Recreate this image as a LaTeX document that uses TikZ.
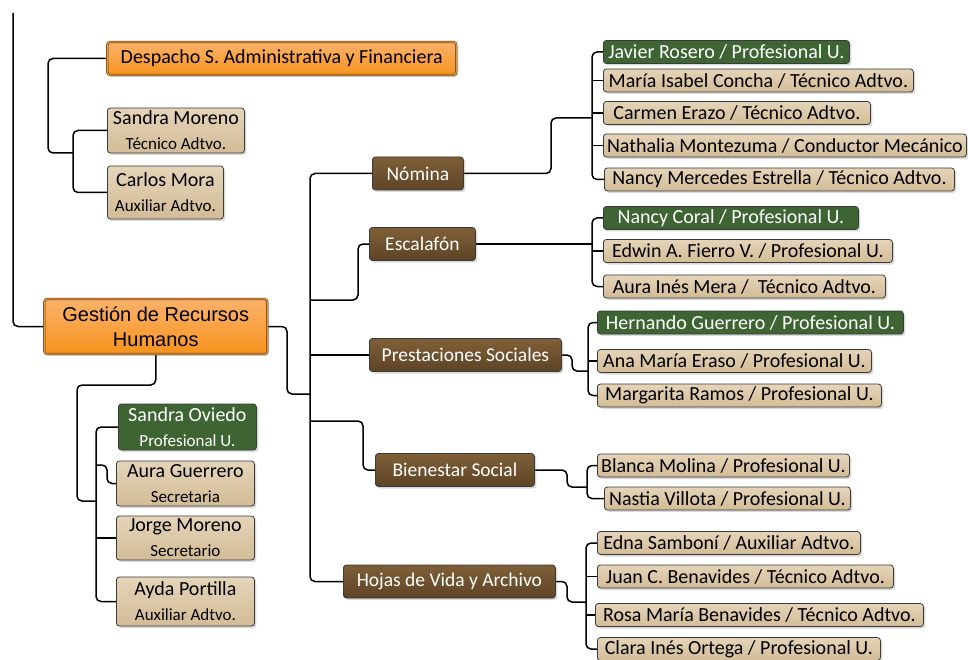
\documentclass[tikz,border=0pt]{standalone}
\usepackage{fontspec}
\setmainfont{Carlito}
\newfontfamily\arialfont{Liberation Sans}
\usetikzlibrary{shadows,backgrounds}

\definecolor{orangetop}{HTML}{FBB26A}
\definecolor{orangebot}{HTML}{F7931E}
\definecolor{browntop}{HTML}{7E5F37}
\definecolor{brownbot}{HTML}{5E4426}
\definecolor{leadfill}{HTML}{3E6433}
\definecolor{stafftop}{HTML}{E4D4B9}
\definecolor{staffbot}{HTML}{D3BC96}
\definecolor{edge}{HTML}{3A3A3A}

\newcommand{\cargo}[1]{{\fontsize{17}{20}\selectfont #1}}

\begin{document}
\begin{tikzpicture}[x=1pt, y=-1pt,
	box/.style = {anchor=west, draw=edge, line width=0.8pt, rounded corners=3pt, inner sep=1pt, align=center, drop shadow={shadow xshift=2pt, shadow yshift=-2pt, opacity=0.3}, font=\fontsize{20}{25}\selectfont},
	staff/.style = {box, top color=stafftop, bottom color=staffbot, minimum height=23pt},
	lead/.style = {box, fill=leadfill, text=white, minimum height=23pt},
	unit/.style = {box, top color=browntop, bottom color=brownbot, text=white, minimum height=33pt, font=\fontsize{19.5}{24}\selectfont},
	office/.style = {box, top color=orangetop, bottom color=orangebot, double=orangebot, double distance=1.2pt, line width=0.5pt},
	conn/.style = {draw, line width=1.5pt, rounded corners=5pt}]
\useasboundingbox (0,0) rectangle (968,660);

\node[office, minimum width=349pt, minimum height=33pt] (despacho) at (107,58.5) {Despacho S. Administrativa y Financiera};
\node[staff, minimum width=137pt, minimum height=45pt] (smoreno) at (107,130.5) {Sandra Moreno\\\cargo{Técnico Adtvo.}};
\node[staff, minimum width=116pt, minimum height=53pt] (cmora) at (107,192.5) {Carlos Mora\\\cargo{Auxiliar Adtvo.}};
\node[office, minimum width=223pt, minimum height=55pt, font=\arialfont\fontsize{20}{25}\selectfont] (gestion) at (44,326.5) {Gestión de Recursos\\Humanos};
\node[lead, minimum width=138pt, minimum height=46pt] (oviedo) at (118,427) {Sandra Oviedo\\\cargo{Profesional U.}};
\node[staff, minimum width=138pt, minimum height=45pt] (aguerrero) at (116,483.5) {Aura Guerrero\\\cargo{Secretaria}};
\node[staff, minimum width=138pt, minimum height=44pt] (jmoreno) at (116,538) {Jorge Moreno\\\cargo{Secretario}};
\node[staff, minimum width=138pt, minimum height=49pt] (portilla) at (116,601.5) {Ayda Portilla\\\cargo{Auxiliar Adtvo.}};

\node[unit, minimum width=91pt] (nomina) at (372,173.5) {Nómina};
\node[unit, minimum width=106pt] (escalafon) at (369,244) {Escalafón};
\node[unit, minimum width=192pt] (prestaciones) at (369,355) {Prestaciones Sociales};
\node[unit, minimum width=159pt] (bienestar) at (375,470) {Bienestar Social};
\node[unit, minimum width=212pt] (hojas) at (343,581.5) {Hojas de Vida y Archivo};

\node[lead, minimum width=246pt] (javier) at (603,52) {Javier Rosero / Profesional U.};
\node[staff, minimum width=310pt] (maria) at (603,80.5) {María Isabel Concha / Técnico Adtvo.};
\node[staff, minimum width=267pt] (carmen) at (603,113) {Carmen Erazo / Técnico Adtvo.};
\node[staff, minimum width=363pt] (nathalia) at (603,145.5) {Nathalia Montezuma / Conductor Mecánico};
\node[staff, minimum width=350pt] (nancym) at (604,179.5) {Nancy Mercedes Estrella / Técnico Adtvo.};
\node[lead, minimum width=255pt] (ncoral) at (603,218) {Nancy Coral / Profesional U.};
\node[staff, minimum width=289pt] (edwin) at (603,251) {Edwin A. Fierro V. / Profesional U.};
\node[staff, minimum width=282pt] (aura) at (603,286.5) {Aura Inés Mera /~ Técnico Adtvo.};
\node[lead, minimum width=306pt] (hernando) at (597,322.5) {Hernando Guerrero / Profesional U.};
\node[staff, minimum width=274pt] (ana) at (597,361) {Ana María Eraso / Profesional U.};
\node[staff, minimum width=284pt] (margarita) at (597,395.5) {Margarita Ramos / Profesional U.};
\node[staff, minimum width=252pt] (blanca) at (597,465.5) {Blanca Molina / Profesional U.};
\node[staff, minimum width=246pt] (nastia) at (604,498.5) {Nastia Villota / Profesional U.};
\node[staff, minimum width=263pt] (edna) at (597,543) {Edna Samboní / Auxiliar Adtvo.};
\node[staff, minimum width=296pt] (juan) at (597,576.5) {Juan C. Benavides / Técnico Adtvo.};
\node[staff, minimum width=328pt] (rosa) at (595,615) {Rosa María Benavides / Técnico Adtvo.};
\node[staff, minimum width=283pt] (clara) at (597,649) {Clara Inés Ortega / Profesional U.};

\coordinate (top) at (13,13);
\coordinate (dj) at (48,153);
\coordinate (sbar) at (73,153);
\coordinate (gj) at (77,385);
\coordinate (obar) at (96,501);
\coordinate (agj) at (107,465);
\coordinate (gr) at (287,394);
\coordinate (mbar) at (310,394);
\coordinate (ej) at (358,300);
\coordinate (bj) at (363,421);
\coordinate (nj) at (551,118);
\coordinate (nbar) at (592,118);
\coordinate (ebar) at (592,244);
\coordinate (pj) at (572,371);
\coordinate (pbar) at (588,371);
\coordinate (bwj) at (567,487);
\coordinate (bbar) at (587,487);
\coordinate (hj) at (567,602);
\coordinate (hbar) at (586,602);

\begin{scope}[on background layer]
\draw[conn] (top) |- (gestion.west);
\draw[conn] (despacho.west) -| (dj) -- (sbar);
\draw[conn] (smoreno.west) -| (cmora.west -| sbar) -- (cmora.west);
\draw[conn] (gestion.south) |- (gj) |- (obar);
\draw[conn] (oviedo.west) -| (portilla.west -| obar) -- (portilla.west);
\draw[conn] (aguerrero.west) -| (agj) -- (agj -| obar);
\draw[conn] (jmoreno.west) -- (jmoreno.west -| obar);
\draw[conn] (gestion.east) -| (gr) -- (mbar);
\draw[conn] (nomina.west) -| (hojas.west -| mbar) -- (hojas.west);
\draw[conn] (escalafon.west) -| (ej) -- (ej -| mbar);
\draw[conn] (prestaciones.west) -- (prestaciones.west -| mbar);
\draw[conn] (bienestar.west) -| (bj) -- (bj -| mbar);
\draw[conn] (nomina.east) -| (nj) -- (nbar);
\draw[conn] (javier.west) -| (nancym.west -| nbar) -- (nancym.west);
\foreach \n in {maria, carmen, nathalia}
	\draw[conn] (\n.west) -- (\n.west -| nbar);
\draw[conn] (escalafon.east) -- (escalafon.east -| ebar);
\draw[conn] (ncoral.west) -| (aura.west -| ebar) -- (aura.west);
\draw[conn] (edwin.west) -- (edwin.west -| ebar);
\draw[conn] (prestaciones.east) -| (pj) -- (pbar);
\draw[conn] (hernando.west) -| (margarita.west -| pbar) -- (margarita.west);
\draw[conn] (ana.west) -- (ana.west -| pbar);
\draw[conn] (bienestar.east) -| (bwj) -- (bbar);
\draw[conn] (blanca.west) -| (nastia.west -| bbar) -- (nastia.west);
\draw[conn] (hojas.east) -| (hj) -- (hbar);
\draw[conn] (edna.west) -| (clara.west -| hbar) -- (clara.west);
\foreach \n in {juan, rosa}
	\draw[conn] (\n.west) -- (\n.west -| hbar);
\end{scope}
\end{tikzpicture}
\end{document}
